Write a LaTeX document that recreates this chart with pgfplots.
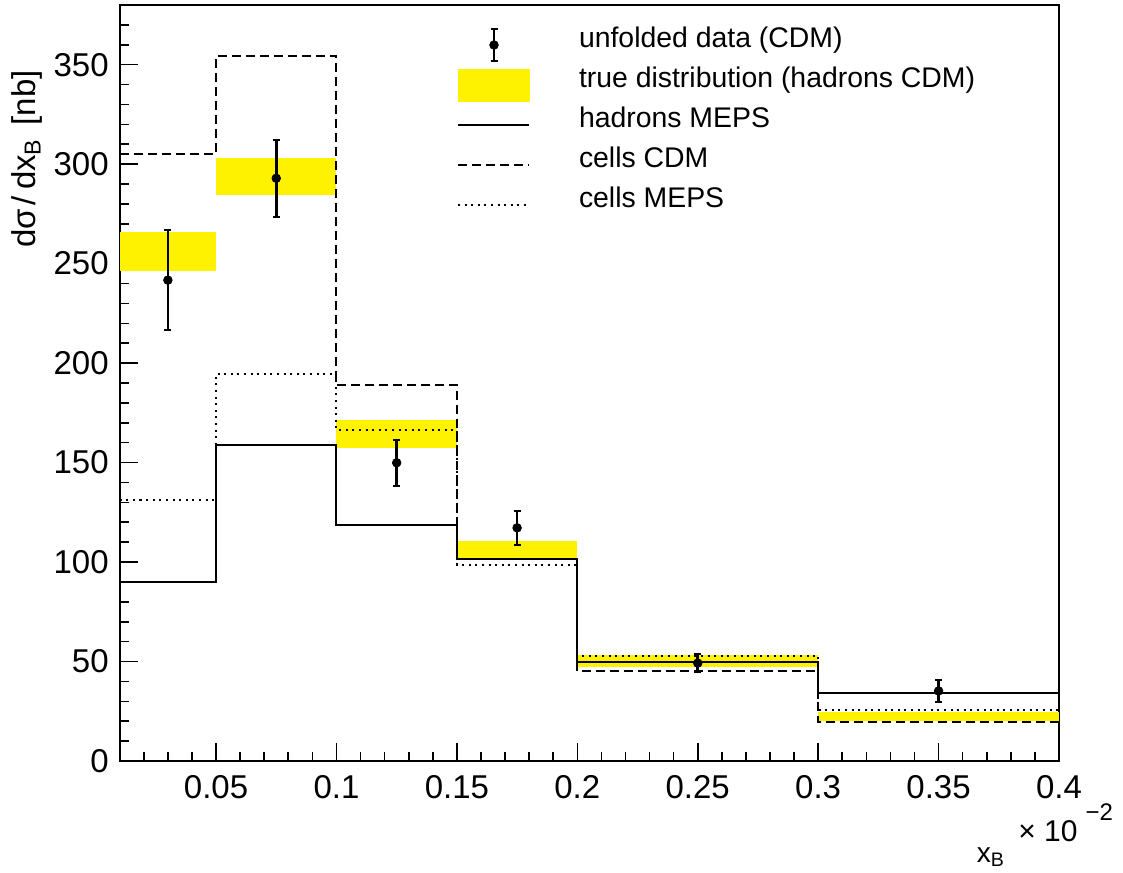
\documentclass[border=0pt]{standalone}
\usepackage{pgfplots}
\pgfplotsset{compat=1.18}
\usepackage{fontspec}
\setmainfont{Liberation Sans}
\begin{document}
\begin{tikzpicture}
\begin{axis}[
  scale only axis, clip=false,
  width=469.65pt, height=378pt,
  xmin=0.01, xmax=0.4, ymin=0, ymax=380,
  axis line style={line width=0.9pt},
  tick align=inside,
  xtick pos=bottom, ytick pos=left,
  xtick={0.05,0.1,0.15,0.2,0.25,0.3,0.35,0.4},
  xticklabels={0.05,0.1,0.15,0.2,0.25,0.3,0.35,0.4},
  minor xtick={0.02,0.03,0.04,0.06,0.07,0.08,0.09,0.11,0.12,0.13,0.14,0.16,0.17,0.18,0.19,0.21,0.22,0.23,0.24,0.26,0.27,0.28,0.29,0.31,0.32,0.33,0.34,0.36,0.37,0.38,0.39},
  ytick={0,50,100,150,200,250,300,350},
  yticklabels={0,50,100,150,200,250,300,350},
  minor ytick={10,20,30,40,60,70,80,90,110,120,130,140,160,170,180,190,210,220,230,240,260,270,280,290,310,320,330,340,360,370},
  major tick length=9pt, minor tick length=4.6pt,
  every tick/.style={black, line width=0.8pt},
  xticklabel style={font=\fontsize{16.5}{16.5}\selectfont, inner sep=0pt, anchor=north},
  yticklabel style={font=\fontsize{16.5}{16.5}\selectfont, inner sep=0pt, anchor=east},
  xticklabel shift=7pt, yticklabel shift=5.3pt,
  ylabel={dσ\hspace{2pt}/\hspace{3pt}dx\textsubscript{B}\hspace{2pt} [nb]},
  ylabel style={at={(axis description cs:-0.0987,0.914)}, anchor=east, inner sep=0pt, font=\fontsize{16.5}{16.5}\selectfont},
  xlabel={x\textsubscript{B}},
  xlabel style={at={(axis description cs:0.912,-0.1336)}, anchor=base west, inner sep=0pt, font=\fontsize{14}{14}\selectfont},
  legend style={at={(axis description cs:0.3591,0.9735)}, anchor=north west, draw=none, fill=none,
    inner sep=0pt, outer sep=0pt, row sep=0pt, column sep=0pt,
    nodes={inner sep=0pt}, cells={anchor=base west},
    font=\fontsize{14.2}{14.2}\selectfont},
]
% true distribution bands
\addplot[fill=yellow, draw=none, forget plot] coordinates {(0.01,246.4)(0.05,246.4)(0.05,265.7)(0.01,265.7)} -- cycle;
\addplot[fill=yellow, draw=none, forget plot] coordinates {(0.05,284.5)(0.1,284.5)(0.1,303.2)(0.05,303.2)} -- cycle;
\addplot[fill=yellow, draw=none, forget plot] coordinates {(0.1,157.1)(0.15,157.1)(0.15,171.4)(0.1,171.4)} -- cycle;
\addplot[fill=yellow, draw=none, forget plot] coordinates {(0.15,101.8)(0.2,101.8)(0.2,110.6)(0.15,110.6)} -- cycle;
\addplot[fill=yellow, draw=none, forget plot] coordinates {(0.2,47.5)(0.3,47.5)(0.3,53.4)(0.2,53.4)} -- cycle;
\addplot[fill=yellow, draw=none, forget plot] coordinates {(0.3,20.1)(0.4,20.1)(0.4,24.5)(0.3,24.5)} -- cycle;
% hadrons MEPS
\addplot[const plot, black, line width=1pt, forget plot] coordinates {(0.01,90)(0.05,158.6)(0.1,118.5)(0.15,101.7)(0.2,49.7)(0.3,34.4)(0.4,34.4)};
% cells CDM
\addplot[const plot, black, line width=1pt, dash pattern=on 4.5pt off 2.5pt, forget plot] coordinates {(0.01,305.2)(0.05,354.4)(0.1,189.2)(0.15,101.5)(0.2,45)(0.3,19.5)(0.4,19.5)};
% cells MEPS
\addplot[const plot, black, line width=1pt, dash pattern=on 1pt off 2.3pt, forget plot] coordinates {(0.01,131.1)(0.05,194.7)(0.1,166.3)(0.15,98.7)(0.2,52.9)(0.3,25.7)(0.4,25.7)};
% unfolded data
\addplot[only marks, mark=*, mark size=2.15pt, black, forget plot,
  error bars/.cd, y dir=both, y explicit,
  error bar style={line width=1.3pt},
  error mark options={rotate=90, mark size=1.75pt, line width=1pt}]
  coordinates {
  (0.03,241.7) +- (0,25.3)
  (0.075,292.9) +- (0,19.4)
  (0.125,149.9) +- (0,11.5)
  (0.175,117.2) +- (0,8.6)
  (0.25,49.2) +- (0,4.4)
  (0.35,35.2) +- (0,5.6)
  };
% legend
\addlegendimage{legend image code/.code={
  \path[draw=none, fill=none] (0pt,-9pt) rectangle (60.5pt,11pt);
  \draw[black, line width=1.3pt] (18pt,-7pt)--(18pt,9pt);
  \draw[black, line width=1pt] (16.25pt,-7pt)--(19.75pt,-7pt) (16.25pt,9pt)--(19.75pt,9pt);
  \fill[black] (18pt,1pt) circle (2.15pt);}}
\addlegendentry{unfolded data (CDM)}
\addlegendimage{legend image code/.code={
  \path[draw=none, fill=none] (0pt,-9pt) rectangle (60.5pt,11pt);
  \fill[yellow] (0pt,-7pt) rectangle (35.5pt,9pt);}}
\addlegendentry{true distribution (hadrons CDM)}
\addlegendimage{legend image code/.code={
  \path[draw=none, fill=none] (0pt,-9pt) rectangle (60.5pt,11pt);
  \draw[black, line width=1pt] (0pt,1pt)--(35.5pt,1pt);}}
\addlegendentry{hadrons MEPS}
\addlegendimage{legend image code/.code={
  \path[draw=none, fill=none] (0pt,-9pt) rectangle (60.5pt,11pt);
  \draw[black, line width=1pt, dash pattern=on 4.5pt off 2.5pt] (0pt,1pt)--(35.5pt,1pt);}}
\addlegendentry{cells CDM}
\addlegendimage{legend image code/.code={
  \path[draw=none, fill=none] (0pt,-9pt) rectangle (60.5pt,11pt);
  \draw[black, line width=1pt, dash pattern=on 1pt off 2.3pt] (0pt,1pt)--(35.5pt,1pt);}}
\addlegendentry{cells MEPS}
\node[anchor=base west, inner sep=0pt, font=\fontsize{15}{15}\selectfont] at (axis description cs:0.9563,-0.107) {× 10\hspace{4pt}\raisebox{10.5pt}{\fontsize{12}{12}\selectfont −2}};
\end{axis}
\pgfresetboundingbox
\path ([shift={(-59.85pt,-55.5pt)}]current axis.south west) rectangle ([shift={(32pt,2.5pt)}]current axis.north east);
\end{tikzpicture}
\end{document}
